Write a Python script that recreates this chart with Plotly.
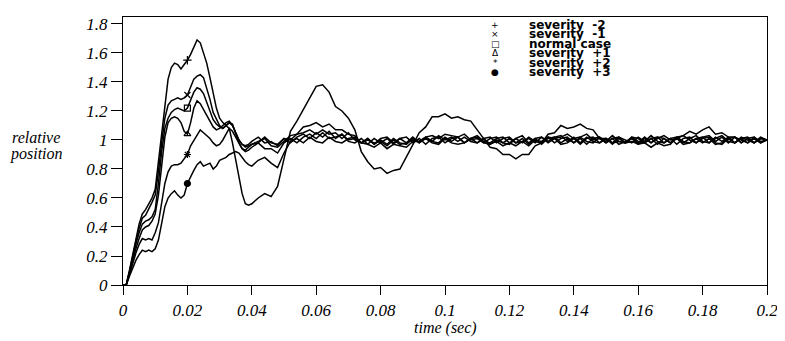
import plotly.graph_objects as go

# time grid (sec): 0.001 steps to 0.040, then 0.002 steps to 0.200
T = [round(i * 0.001, 3) for i in range(41)] + [round(0.042 + i * 0.002, 3) for i in range(80)]

sev_m2 = [0, 0, 0.10, 0.21, 0.32, 0.42, 0.49, 0.52, 0.56, 0.60, 0.66, 0.85, 1.05, 1.27, 1.42, 1.50, 1.53, 1.52, 1.49, 1.52,
          1.55, 1.59, 1.64, 1.69, 1.67, 1.60, 1.53, 1.43, 1.32, 1.22, 1.15, 1.12, 1.10, 1.08, 0.98, 0.86, 0.74, 0.63, 0.56, 0.55, 0.56,
          0.60, 0.63, 0.61, 0.68, 0.87, 1.06, 1.13, 1.21, 1.29, 1.37,
          1.38, 1.33, 1.23, 1.20, 1.15, 1.07, 0.92, 0.85, 0.80, 0.81,
          0.77, 0.79, 0.80, 0.88, 0.96, 1.05, 1.09, 1.16, 1.16, 1.18,
          1.15, 1.16, 1.14, 1.13, 1.07, 1.01, 0.95, 0.94, 0.90, 0.90,
          0.87, 0.90, 0.90, 0.96, 0.98, 1.04, 1.05, 1.10, 1.08, 1.09,
          1.11, 1.08, 1.07, 1.01, 1.01, 0.98, 0.99, 0.98, 0.99, 0.97,
          0.98, 0.95, 0.98, 0.96, 0.97, 1.02, 1.03, 1.06, 1.04, 1.07,
          1.09, 1.04, 1.05, 1.02, 1.02, 0.98, 1.01, 0.98, 1.01, 1.00]

sev_m1 = [0, 0, 0.09, 0.20, 0.30, 0.39, 0.46, 0.48, 0.52, 0.57, 0.62, 0.78, 0.98, 1.15, 1.24, 1.27, 1.28, 1.29, 1.28, 1.29,
          1.31, 1.36, 1.42, 1.44, 1.45, 1.43, 1.36, 1.28, 1.19, 1.14, 1.10, 1.08, 1.10, 1.12, 1.11, 1.05, 0.98, 0.94, 0.93, 0.95, 0.97,
          0.99, 1.01, 0.96, 0.95, 0.99, 1.03, 1.04, 1.09, 1.10, 1.12,
          1.09, 1.11, 1.07, 1.07, 1.04, 1.03, 0.98, 0.97, 0.95, 0.98,
          0.94, 0.97, 0.96, 0.95, 0.99, 0.99, 1.02, 1.03, 1.01, 1.04,
          1.03, 1.02, 1.04, 1.00, 1.01, 0.98, 0.97, 0.99, 0.96, 0.98,
          0.96, 0.99, 0.96, 1.00, 0.99, 1.02, 1.01, 1.02, 1.04, 1.01,
          1.02, 1.04, 1.00, 1.01, 0.98, 1.01, 0.97, 0.99, 1.01, 0.98,
          1.02, 0.98, 1.01, 1.03, 1.00, 1.01, 1.03, 1.00, 0.98, 1.02,
          1.03, 0.99, 1.02, 0.98, 1.02, 1.00, 0.98, 1.02, 0.99, 1.00]

normal = [0, 0, 0.09, 0.19, 0.28, 0.36, 0.42, 0.44, 0.45, 0.47, 0.52, 0.70, 0.92, 1.08, 1.15, 1.19, 1.21, 1.22, 1.21, 1.20,
          1.22, 1.28, 1.33, 1.36, 1.35, 1.32, 1.26, 1.19, 1.14, 1.11, 1.09, 1.08, 1.10, 1.12, 1.10, 1.05, 1.00, 0.97, 0.96, 0.97, 0.99,
          1.02, 0.98, 0.99, 0.96, 1.01, 1.00, 1.04, 1.05, 1.07, 1.04,
          1.07, 1.04, 1.05, 1.01, 1.05, 1.00, 0.98, 1.00, 0.98, 0.99,
          0.96, 1.00, 0.97, 0.98, 1.00, 0.99, 1.02, 0.99, 1.03, 1.00,
          1.02, 0.99, 1.02, 0.99, 0.98, 1.01, 0.97, 1.00, 0.98, 1.01,
          0.98, 0.99, 1.01, 0.98, 1.02, 0.99, 1.02, 1.03, 0.99, 1.02,
          0.98, 1.02, 0.99, 0.98, 1.01, 0.98, 1.02, 1.00, 0.98, 1.02,
          0.99, 1.03, 0.99, 0.98, 1.01, 1.02, 0.98, 1.01, 1.03, 0.99,
          0.98, 1.02, 0.99, 1.02, 0.98, 1.01, 1.02, 0.98, 1.01, 1.00]

sev_p1 = [0, 0, 0.08, 0.17, 0.25, 0.32, 0.38, 0.40, 0.41, 0.44, 0.49, 0.62, 0.84, 1.02, 1.12, 1.15, 1.16, 1.15, 1.12, 1.06,
          1.04, 1.12, 1.22, 1.27, 1.25, 1.21, 1.16, 1.12, 1.09, 1.07, 1.08, 1.10, 1.12, 1.13, 1.10, 1.05, 1.00, 0.97, 0.95, 0.96, 0.97,
          0.98, 1.02, 0.98, 0.97, 1.01, 0.98, 1.02, 1.04, 1.01, 1.05,
          1.02, 1.06, 1.01, 1.04, 1.00, 1.01, 0.98, 1.01, 0.97, 1.00,
          0.97, 1.01, 0.98, 0.97, 1.01, 0.98, 1.02, 0.99, 0.98, 1.02,
          0.99, 1.02, 0.98, 1.01, 1.02, 0.98, 1.01, 1.02, 0.98, 0.97,
          1.01, 0.98, 1.02, 0.99, 0.98, 1.02, 0.98, 1.01, 1.02, 0.98,
          1.01, 0.97, 1.01, 1.02, 0.98, 1.01, 1.02, 0.98, 1.01, 0.97,
          1.01, 0.98, 1.02, 1.01, 0.98, 1.02, 0.99, 0.98, 1.01, 1.02,
          0.98, 1.01, 1.03, 0.99, 0.98, 1.02, 1.00, 0.98, 1.02, 1.00]

sev_p2 = [0, 0, 0.07, 0.15, 0.22, 0.28, 0.32, 0.31, 0.32, 0.31, 0.36, 0.43, 0.58, 0.70, 0.78, 0.82, 0.83, 0.83, 0.84, 0.87,
          0.90, 0.96, 1.00, 1.04, 1.07, 1.05, 1.03, 1.01, 0.98, 0.96, 0.97, 1.00, 1.04, 1.08, 1.06, 1.02, 0.97, 0.94, 0.92, 0.93, 0.95,
          0.98, 0.94, 0.94, 0.91, 0.98, 1.01, 0.98, 1.02, 1.04, 1.01,
          1.05, 1.01, 1.02, 1.04, 0.99, 0.98, 1.01, 0.97, 1.01, 0.98,
          1.01, 0.97, 1.01, 1.02, 0.98, 1.01, 0.97, 1.01, 1.02, 0.98,
          1.01, 1.02, 0.98, 1.01, 1.03, 0.99, 0.98, 1.01, 1.02, 0.98,
          1.01, 1.03, 0.98, 1.01, 0.97, 1.01, 1.02, 0.98, 1.01, 0.98,
          1.02, 0.99, 0.98, 1.02, 0.99, 1.03, 0.99, 0.98, 1.02, 0.99,
          0.98, 1.01, 1.02, 0.98, 1.01, 0.97, 1.01, 1.02, 0.98, 1.01,
          1.02, 0.98, 0.97, 1.01, 1.02, 0.98, 1.01, 1.02, 0.98, 1.00]

sev_p3 = [0, 0, 0.06, 0.12, 0.17, 0.21, 0.24, 0.23, 0.24, 0.23, 0.25, 0.31, 0.42, 0.54, 0.60, 0.63, 0.65, 0.62, 0.60, 0.62,
          0.70, 0.75, 0.79, 0.83, 0.85, 0.82, 0.83, 0.84, 0.80, 0.82, 0.86, 0.87, 0.88, 0.90, 0.91, 0.92, 0.91, 0.88, 0.85, 0.83, 0.82,
          0.86, 0.88, 0.84, 0.81, 0.91, 0.99, 1.01, 0.98, 1.02, 0.99,
          0.98, 1.02, 0.99, 0.98, 1.01, 1.02, 0.98, 1.01, 0.97, 1.01,
          1.02, 0.98, 1.01, 0.98, 1.02, 0.98, 1.01, 0.98, 0.97, 1.01,
          0.98, 0.97, 0.98, 1.01, 0.98, 1.01, 1.02, 0.98, 1.01, 1.02,
          0.98, 1.01, 0.97, 1.01, 1.02, 0.98, 1.01, 0.97, 0.98, 1.01,
          0.97, 1.01, 1.02, 0.98, 1.01, 0.97, 1.01, 0.98, 1.02, 1.01,
          0.98, 1.01, 0.97, 1.01, 0.98, 1.01, 0.97, 0.98, 1.01, 0.98,
          1.01, 0.97, 0.98, 1.01, 0.98, 1.01, 0.98, 1.01, 0.98, 1.00]

labels = ["severity  -2", "severity  -1", "normal case", "severity  +1", "severity  +2", "severity  +3"]
legend_glyphs = ["+", "×", "□", "Δ", "*", "●"]
marker_symbols = ["cross-thin-open", "x-thin-open", "square-open", "triangle-up-open", "asterisk-open", "circle"]
series = [sev_m2, sev_m1, normal, sev_p1, sev_p2, sev_p3]
x_ticks = [0, 0.02, 0.04, 0.06, 0.08, 0.1, 0.12, 0.14, 0.16, 0.18, 0.2]
y_ticks = [0, 0.2, 0.4, 0.6, 0.8, 1, 1.2, 1.4, 1.6, 1.8]
MARK_IDX = 20  # markers placed at t = 0.020

for s in series:
    assert len(s) == len(T), len(s)

fig = go.Figure()
for name, vals, sym in zip(labels, series, marker_symbols):
    fig.add_trace(go.Scatter(x=T, y=vals, mode="lines", name=name,
                             line=dict(color="black", width=1.5), showlegend=False))
    fig.add_trace(go.Scatter(x=[T[MARK_IDX]], y=[vals[MARK_IDX]], mode="markers", showlegend=False,
                             marker=dict(symbol=sym, size=6, color="black",
                                         line=dict(color="black", width=1.2))))

SERIF = "Times New Roman, Liberation Serif, serif"
tickfont = dict(family=SERIF, size=17, color="black", style="italic")
fig.update_xaxes(range=[0, 0.2], tickvals=x_ticks, ticktext=[f"{v:g}" for v in x_ticks],
                 ticks="outside", ticklen=9, tickwidth=1, tickcolor="black",
                 showline=True, linecolor="black", linewidth=1.3, mirror=True,
                 showgrid=False, zeroline=False, tickfont=tickfont)
fig.update_yaxes(range=[0, 1.848], tickvals=y_ticks, ticktext=[f"{v:g}" for v in y_ticks],
                 ticks="outside", ticklen=11, tickwidth=1, tickcolor="black",
                 showline=True, linecolor="black", linewidth=1.3, mirror=True,
                 showgrid=False, zeroline=False, tickfont=tickfont)

ann = []
row_y = [0.970, 0.935, 0.900, 0.865, 0.830, 0.795]
for g, lab, yy in zip(legend_glyphs, labels, row_y):
    ann.append(dict(x=0.578, y=yy, xref="paper", yref="paper", text=g, showarrow=False,
                    xanchor="center", yanchor="middle",
                    font=dict(family="DejaVu Sans", size=9, color="black")))
    ann.append(dict(x=0.627, y=yy, xref="paper", yref="paper", text=lab, showarrow=False,
                    xanchor="left", yanchor="middle",
                    font=dict(family="DejaVu Sans", size=12, color="black", weight="bold")))
axfont = dict(family=SERIF, size=16, color="black", style="italic")
ann.append(dict(x=0.5, y=-0.16, xref="paper", yref="paper", text="time (sec)", showarrow=False,
                xanchor="center", yanchor="middle", font=axfont))
ann.append(dict(x=-0.135, y=0.550, xref="paper", yref="paper", text="relative", showarrow=False,
                xanchor="center", yanchor="middle", font=axfont))
ann.append(dict(x=-0.135, y=0.487, xref="paper", yref="paper", text="position", showarrow=False,
                xanchor="center", yanchor="middle", font=axfont))

# page body has an 8px margin, so the figure is offset by 8px; compensate
fig.update_layout(width=777, height=333, margin=dict(l=115, r=15, t=7, b=56),
                  paper_bgcolor="white", plot_bgcolor="white", annotations=ann)
fig.write_html("out.html")
